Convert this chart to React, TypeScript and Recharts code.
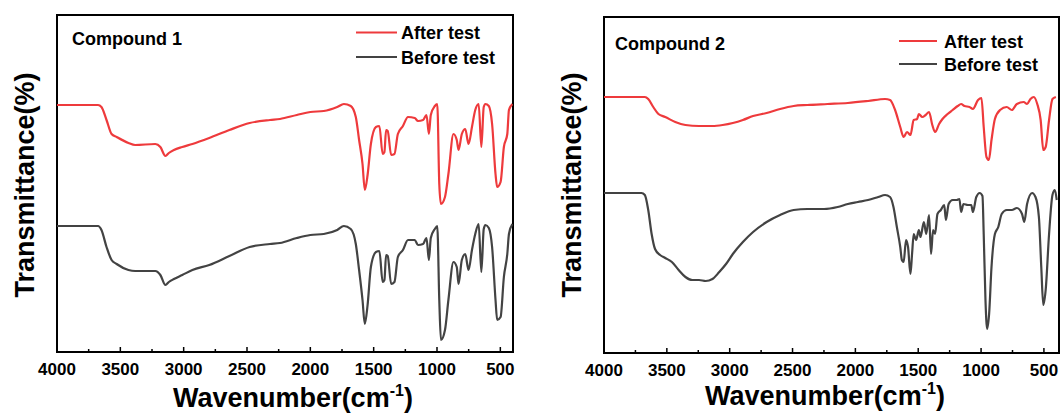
import { LineChart, Line, XAxis, YAxis, ReferenceArea, Customized } from "recharts"

const RED = "#ee3a3c"
const GREY = "#434343"
const FONT = '"Liberation Sans", Arial, Helvetica, sans-serif'

// Compound 1: both traces read at the same wavenumbers (cm-1), transmittance in a.u.
const c1Wavenumber = [
  4000, 3676, 3649, 3609, 3569, 3529, 3436, 3383, 3224, 3184, 3144, 3117, 3077, 3011, 2931, 2798,
  2639, 2479, 2319, 2240, 2107, 2000, 1894, 1788, 1735, 1681, 1641, 1615, 1588, 1570, 1548, 1522,
  1482, 1455, 1429, 1415, 1402, 1389, 1362, 1336, 1309, 1269, 1229, 1176, 1150, 1110, 1083, 1064,
  1049, 1017, 998, 982, 969, 937, 910, 870, 844, 830, 804, 777, 751, 724, 698, 671, 650, 631, 618,
  591, 565, 538, 525, 498, 472, 445, 432, 405,
]
const c1After = [
  247, 247, 245, 232, 218, 215, 209, 207, 208, 205, 196, 199, 202, 205, 208, 214,
  222, 229, 232, 233, 237, 240, 241, 245, 248, 246, 235, 212, 188, 162, 177, 208,
  225, 226, 198, 200, 222, 221, 197, 198, 218, 226, 235, 234, 231, 232, 237, 218,
  237, 246, 248, 168, 148, 155, 178, 218, 212, 202, 218, 223, 208, 225, 242, 248, 205, 245, 248,
  246, 228, 178, 165, 170, 205, 218, 242, 248,
]
const c1Before = [
  126, 126, 122, 105, 92, 88, 82, 81, 81, 77, 67, 70, 73, 77, 82, 87,
  96, 105, 108, 109, 114, 117, 118, 122, 126, 123, 108, 82, 52, 28, 47, 85,
  100, 101, 70, 72, 97, 96, 68, 70, 95, 102, 112, 112, 107, 108, 114, 92,
  114, 123, 126, 52, 12, 22, 52, 90, 85, 68, 92, 98, 82, 102, 118, 128, 80, 123, 127,
  124, 105, 52, 32, 35, 75, 98, 118, 128,
]

// Compound 2
const c2AfterWavenumber = [
  4000, 3675, 3648, 3608, 3567, 3513, 3433, 3352, 3244, 3137, 3056, 2975, 2895, 2814, 2706, 2599,
  2491, 2383, 2222, 2060, 1899, 1764, 1724, 1684, 1643, 1616, 1589, 1562, 1536, 1509, 1495, 1468,
  1441, 1414, 1388, 1366, 1334, 1307, 1266, 1226, 1186, 1159, 1132, 1092, 1065, 1024, 997, 979,
  957, 938, 917, 890, 849, 796, 755, 715, 661, 634, 607, 580, 553, 526, 505, 486, 459, 432, 405,
]
const c2After = [
  256, 256, 254, 246, 239, 236, 231, 228, 227, 227, 228, 230, 233, 237, 240, 244,
  247, 248, 249, 250, 252, 254, 253, 243, 226, 216, 221, 218, 233, 234, 239, 236,
  238, 241, 228, 221, 229, 234, 239, 243, 247, 249, 247, 246, 244, 253, 255, 226,
  196, 193, 213, 234, 243, 246, 243, 249, 251, 249, 254, 256, 249, 233, 203, 206, 233, 254, 256,
]
const c2BeforeWavenumber = [
  4000, 3702, 3675, 3648, 3621, 3594, 3554, 3513, 3460, 3406, 3352, 3298, 3244, 3191, 3137, 3083,
  3029, 2975, 2895, 2814, 2706, 2599, 2491, 2383, 2249, 2141, 2060, 1980, 1899, 1818, 1764, 1724,
  1697, 1670, 1643, 1630, 1616, 1597, 1581, 1562, 1549, 1536, 1517, 1495, 1482, 1455, 1436, 1414,
  1398, 1382, 1366, 1347, 1320, 1293, 1280, 1258, 1226, 1194, 1172, 1159, 1140, 1105, 1078, 1065,
  1038, 1011, 989, 979, 965, 952, 936, 917, 890, 863, 836, 796, 755, 715, 674, 656, 634, 594, 567,
  540, 521, 505, 486, 459, 432, 413, 398,
]
const c2Before = [
  160, 160, 158, 143, 119, 104, 98, 95, 91, 83, 76, 73, 73, 72, 74, 81,
  89, 99, 111, 121, 131, 138, 143, 144, 144, 146, 149, 151, 153, 156, 158, 156,
  146, 126, 106, 93, 91, 113, 106, 79, 99, 119, 113, 123, 116, 131, 119, 138,
  99, 123, 119, 139, 143, 148, 133, 149, 153, 153, 154, 141, 149, 148, 148, 141,
  156, 160, 157, 119, 53, 24, 39, 86, 119, 126, 139, 143, 143, 145, 139, 131, 149, 160, 156,
  136, 86, 48, 63, 119, 158, 163, 153,
]

const xTicks = [4000, 3750, 3500, 3250, 3000, 2750, 2500, 2250, 2000, 1750, 1500, 1250, 1000, 750, 500]

function toPoints(wn: number[], t: number[]) {
  return wn.map((w, i) => ({ wn: w, t: t[i] }))
}

function WnTick(props: any) {
  const { x, y, payload } = props
  const major = payload.value % 500 === 0
  return (
    <g>
      <line x1={x} x2={x} y1={y} y2={y - (major ? 5 : 3)} stroke="#000" strokeWidth={1.5} />
      {major && (
        <text x={x} y={y + 23} textAnchor="middle" fontSize={17} fontWeight="bold" fill="#000" fontFamily={FONT}>
          {payload.value}
        </text>
      )}
    </g>
  )
}

type Layout = {
  margin: { top: number; right: number; bottom: number; left: number }
  xHeight: number
  xMin: number
  yMax: number
  title: [number, number]
  legend: { x: number; len: number; y: number; gap: number; textX: number }
  yTitle: [number, number]
  xTitle: [number, number]
}

type PanelProps = {
  name: string
  after: { wn: number; t: number }[]
  before: { wn: number; t: number }[]
  layout: Layout
}

function Panel({ name, after, before, layout }: PanelProps) {
  const { legend } = layout
  const textStyle = { fontFamily: FONT, fontWeight: "bold" as const, fill: "#000" }
  return (
    <LineChart width={531} height={415} margin={layout.margin}>
      <XAxis
        xAxisId="b"
        type="number"
        dataKey="wn"
        domain={[layout.xMin, 4000]}
        reversed
        allowDataOverflow
        ticks={xTicks}
        interval={0}
        height={layout.xHeight}
        tickSize={0}
        tickMargin={0}
        tickLine={false}
        tick={<WnTick />}
        axisLine={{ stroke: "#000", strokeWidth: 2 }}
      />
      <YAxis yAxisId="l" type="number" domain={[0, layout.yMax]} allowDataOverflow width={0} tick={false} tickLine={false} axisLine={false} />
      {/* plot frame */}
      <ReferenceArea
        xAxisId="b"
        yAxisId="l"
        x1={layout.xMin}
        x2={4000}
        y1={0}
        y2={layout.yMax}
        fill="none"
        fillOpacity={0}
        stroke="#000"
        strokeWidth={2}
        strokeOpacity={1}
      />
      <Line
        xAxisId="b"
        yAxisId="l"
        data={before}
        dataKey="t"
        type="monotoneX"
        stroke={GREY}
        strokeWidth={2.2}
        dot={false}
        isAnimationActive={false}
        name="Before test"
      />
      <Line
        xAxisId="b"
        yAxisId="l"
        data={after}
        dataKey="t"
        type="monotoneX"
        stroke={RED}
        strokeWidth={2.2}
        dot={false}
        isAnimationActive={false}
        name="After test"
      />
      <Customized
        component={() => (
          <g>
            <text x={layout.title[0]} y={layout.title[1]} fontSize={18} {...textStyle}>
              {name}
            </text>
            <line x1={legend.x} x2={legend.x + legend.len} y1={legend.y} y2={legend.y} stroke={RED} strokeWidth={2.2} />
            <text x={legend.textX} y={legend.y + 6.5} fontSize={18} {...textStyle}>
              After test
            </text>
            <line x1={legend.x} x2={legend.x + legend.len} y1={legend.y + legend.gap} y2={legend.y + legend.gap} stroke={GREY} strokeWidth={2.2} />
            <text x={legend.textX} y={legend.y + legend.gap + 6.5} fontSize={18} {...textStyle}>
              Before test
            </text>
            <text
              x={layout.yTitle[0]}
              y={layout.yTitle[1]}
              transform={`rotate(-90 ${layout.yTitle[0]} ${layout.yTitle[1]})`}
              textAnchor="middle"
              dominantBaseline="central"
              fontSize={27}
              {...textStyle}
            >
              Transmittance(%)
            </text>
            <text x={layout.xTitle[0]} y={layout.xTitle[1]} textAnchor="middle" fontSize={27} {...textStyle}>
              Wavenumber(cm
              <tspan fontSize={16} dy={-11}>-1</tspan>
              <tspan dy={11}>)</tspan>
            </text>
          </g>
        )}
      />
    </LineChart>
  )
}

const layout1: Layout = {
  margin: { top: 15, right: 18, bottom: 0, left: 57 },
  xHeight: 63,
  xMin: 400,
  yMax: 337,
  title: [72, 44.5],
  legend: { x: 356, len: 41, y: 32.5, gap: 24.5, textX: 401 },
  yTitle: [25, 185],
  xTitle: [293, 407],
}

const layout2: Layout = {
  margin: { top: 17, right: 3, bottom: 0, left: 73 },
  xHeight: 62,
  xMin: 380,
  yMax: 336,
  title: [84, 49.5],
  legend: { x: 368, len: 38, y: 41, gap: 23, textX: 413 },
  yTitle: [41, 185],
  xTitle: [294, 405],
}

export default function App() {
  return (
    <div style={{ position: "absolute", left: 0, top: 0, width: 1062, height: 415, background: "#fff", fontFamily: FONT }}>
      <div style={{ position: "absolute", left: 0, top: 0 }}>
        <Panel name="Compound 1" after={toPoints(c1Wavenumber, c1After)} before={toPoints(c1Wavenumber, c1Before)} layout={layout1} />
      </div>
      <div style={{ position: "absolute", left: 531, top: 0 }}>
        <Panel
          name="Compound 2"
          after={toPoints(c2AfterWavenumber, c2After)}
          before={toPoints(c2BeforeWavenumber, c2Before)}
          layout={layout2}
        />
      </div>
    </div>
  )
}
